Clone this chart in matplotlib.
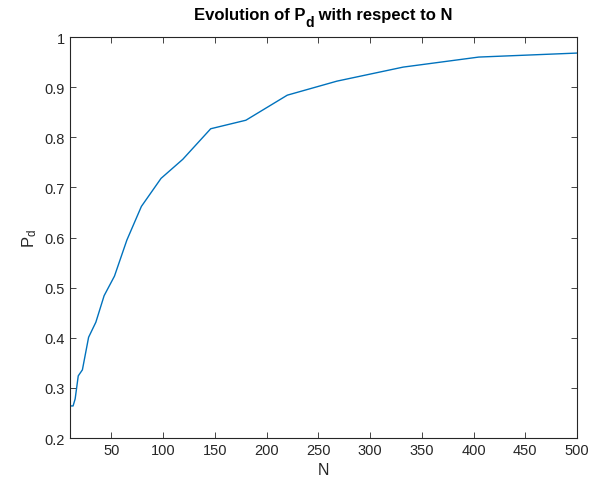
import matplotlib
matplotlib.use('Agg')
import matplotlib.pyplot as plt

plt.rcParams['font.family'] = ['Liberation Sans', 'DejaVu Sans']
plt.rcParams['mathtext.fontset'] = 'custom'
plt.rcParams['mathtext.rm'] = 'Liberation Sans'
plt.rcParams['mathtext.it'] = 'Liberation Sans'
plt.rcParams['mathtext.bf'] = 'Liberation Sans:bold'

# values
N = [10, 13, 15, 18, 22, 28, 35, 43, 53, 65, 79, 98, 119, 146, 180, 220, 268, 332, 405, 500]
Pd = [0.264, 0.264, 0.278, 0.324, 0.336, 0.401, 0.431, 0.484, 0.523, 0.595,
      0.662, 0.718, 0.756, 0.817, 0.834, 0.884, 0.912, 0.940, 0.960, 0.968]
xticks = [50, 100, 150, 200, 250, 300, 350, 400, 450, 500]
yticks = [0.2, 0.3, 0.4, 0.5, 0.6, 0.7, 0.8, 0.9, 1]
title_parts = ['Evolution of P', 'd', ' with respect to N']

fig = plt.figure(figsize=(5.9, 4.85), dpi=100)
ax = fig.add_axes([0.1186, 0.0948, 0.8594, 0.8268])
ax.plot(N, Pd, color='#0072BD', lw=1)

ax.set_xlim(10, 500)
ax.set_ylim(0.2, 1)
ax.set_xticks(xticks)
ax.set_yticks(yticks)
ax.set_yticklabels(['0.2', '0.3', '0.4', '0.5', '0.6', '0.7', '0.8', '0.9', '1'])

ax.tick_params(direction='in', top=True, right=True, length=4, width=0.6,
               colors='#262626', labelsize=10.5, labelcolor='#262626')
for s in ax.spines.values():
    s.set_color('#262626')
    s.set_linewidth(0.8)

ax.set_xlabel('N', fontsize=11.5, color='#262626')
ax.set_ylabel('P$_\\mathregular{d}$', fontsize=12, color='#262626')

# title with a MATLAB-like subscript, built from pieces
r = fig.canvas.get_renderer()
sizes = [12, 10, 12]
drops = [0, 7, 0]
texts = []
for t, fs in zip(title_parts, sizes):
    texts.append(fig.text(0, 0, t, fontsize=fs, fontweight='bold', color='black',
                          ha='left', va='baseline'))
widths = [tx.get_window_extent(r).width for tx in texts]
total = sum(widths)
axbox = ax.get_window_extent(r)
x0 = (axbox.x0 + axbox.x1) / 2 - total / 2
base = 485 - 20
for tx, w, d in zip(texts, widths, drops):
    tx.set_position((x0 / 590, (base - d) / 485))
    x0 += w

fig.savefig('out.png', dpi=100)
